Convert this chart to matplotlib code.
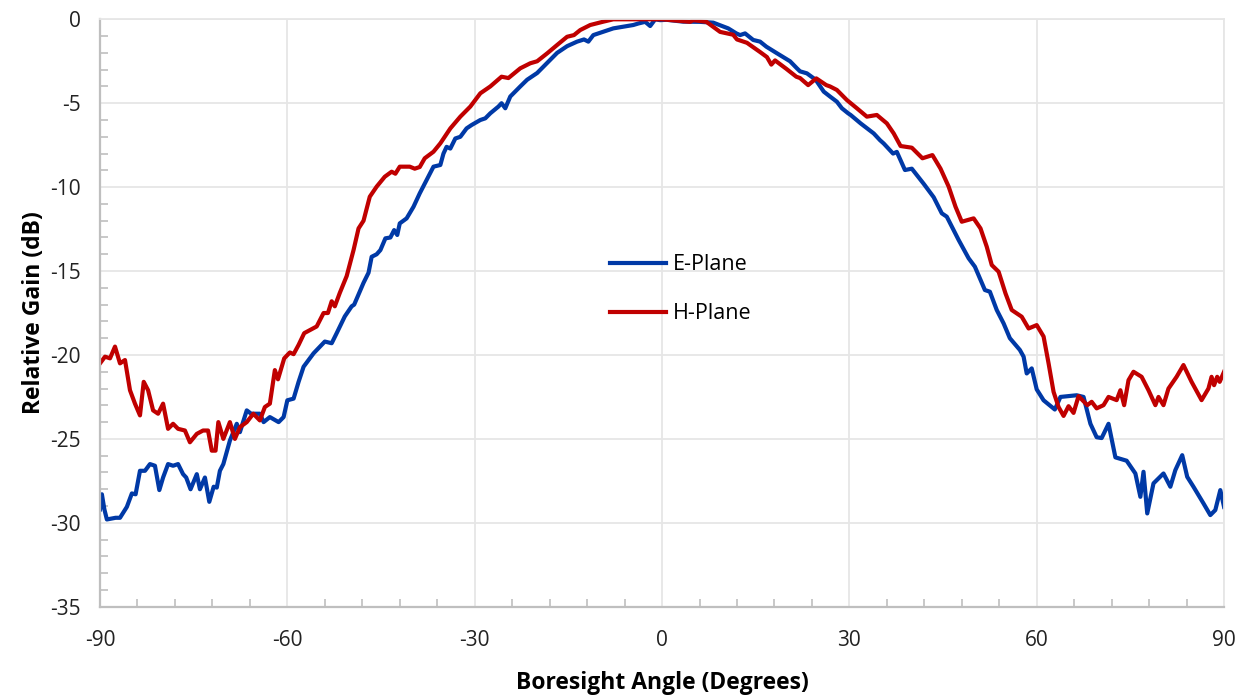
import matplotlib
matplotlib.use("Agg")
import matplotlib.pyplot as plt
from matplotlib.ticker import MultipleLocator

# ---------------- data ----------------
e_angle = [-90, -89.7, -89.3, -88.9, -87.5, -86.8, -85.7, -84.9, -84.3, -83.6, -82.8, -82.0, -81.2,
           -80.5, -79.9, -79.1, -78.3, -77.5, -76.7, -76.2, -75.5, -74.5, -74.0, -73.2, -72.5, -71.8,
           -71.3, -70.8, -70.25, -69.2, -68.1, -67.6, -66.5, -65.8, -64.4, -63.8, -62.8, -61.4, -60.6,
           -60.0, -59.0, -58.2, -57.4, -55.8, -54.0, -52.9, -52.1, -50.8, -49.7, -49.3, -47.8, -47.0,
           -46.5, -45.7, -45.1, -44.3, -43.5, -42.9, -42.4, -42.0, -40.9, -39.8, -38.8, -37.7, -36.6,
           -35.5, -35.0, -34.5, -33.9, -33.1, -32.3, -31.3, -30.5, -29.1, -28.3, -27.5, -26.2, -25.7,
           -25.1, -24.3, -22.7, -21.6, -20.0, -18.4, -16.8, -15.2, -13.6, -12.5, -11.8, -11.0, -9.4,
           -7.8, -6.2, -4.6, -3.8, -2.7, -1.9, -1.1, -0.3, 0.75, 3.4, 6.0, 8.2, 10.6, 11.9, 12.5, 13.3,
           14.6, 15.7, 16.7, 18.3, 20.5, 21.6, 22.1, 23.2, 24.6, 25.9, 26.9, 28.0, 28.8, 29.8, 30.2,
           31.8, 33.9, 34.9, 35.5, 37.0, 37.6, 38.9, 40.0, 41.9, 43.5, 44.8, 45.6, 47.5, 49.1, 50.1,
           51.7, 52.5, 53.6, 54.7, 55.7, 57.3, 57.9, 58.4, 59.2, 60.0, 61.1, 62.9, 63.8, 66.4, 67.5,
           68.6, 69.6, 70.4, 71.5, 72.6, 74.4, 75.8, 76.6, 77.1, 77.7, 78.7, 80.3, 81.4, 82.2, 83.3,
           84.1, 85.1, 86.7, 87.8, 88.6, 89.4, 90]
e_gain = [-29.2, -28.3, -29.2, -29.8, -29.7, -29.7, -29.05, -28.25, -28.3, -26.9, -26.9, -26.5, -26.6,
          -28.05, -27.3, -26.5, -26.6, -26.5, -27.1, -27.3, -28.0, -27.1, -28.0, -27.3, -28.75, -27.85,
          -27.9, -26.9, -26.5, -25.1, -24.1, -24.6, -23.3, -23.5, -23.5, -24.0, -23.7, -24.0, -23.7,
          -22.7, -22.6, -21.6, -20.7, -19.9, -19.2, -19.3, -18.7, -17.7, -17.1, -17.0, -15.7, -15.1,
          -14.15, -14.0, -13.75, -13.05, -13.0, -12.56, -12.85, -12.16, -11.86, -11.17, -10.37, -9.58, -8.78,
          -8.68, -8.0, -7.6, -7.7, -7.1, -7.0, -6.5, -6.3, -6.0, -5.9, -5.6, -5.2, -5.0,
          -5.3, -4.6, -4.0, -3.6, -3.2, -2.6, -2.0, -1.6, -1.33, -1.2, -1.33, -0.94, -0.74,
          -0.54, -0.44, -0.34, -0.25, -0.15, -0.4, 0.0, -0.05, -0.03, -0.14, -0.15, -0.2, -0.54, -0.84, -0.94, -0.84,
          -1.23, -1.33, -1.63, -2.0, -2.5, -2.92, -3.1, -3.22, -3.6, -4.31, -4.6, -4.91, -5.3, -5.6, -5.7,
          -6.2, -6.8, -7.2, -7.4, -8.0, -7.9, -8.98, -8.9, -9.8, -10.6, -11.56, -11.76, -13.15, -14.24, -14.74,
          -16.13, -16.23, -17.32, -18.12, -19.0, -19.7, -20.1, -21.1, -20.8, -22.05, -22.7, -23.25, -22.5, -22.4, -22.5,
          -24.1, -24.9, -24.95, -24.1, -26.1, -26.3, -27.06, -28.45, -26.96, -29.44, -27.65, -27.06, -27.85, -26.86, -25.97,
          -27.26, -27.85, -28.84, -29.54, -29.24, -28.05, -29.05]

h_angle = [-90, -89.2, -88.4, -87.6, -86.8, -86.0, -85.2, -84.4, -83.6, -83.0, -82.3, -81.5, -80.7,
           -79.9, -79.1, -78.3, -77.5, -76.4, -75.6, -74.5, -73.5, -72.7, -72.1, -71.5, -71.05, -70.25,
           -69.2, -68.4, -67.6, -66.5, -65.45, -64.4, -63.6, -62.8, -62.0, -61.5, -60.5, -59.6, -59.0,
           -58.2, -57.3, -55.3, -54.2, -53.5, -52.9, -52.4, -51.6, -50.5, -49.4, -48.6, -47.8, -46.8,
           -45.7, -44.4, -43.3, -42.7, -42.0, -40.4, -39.6, -38.8, -38.0, -36.6, -35.5, -33.9, -32.3,
           -30.7, -29.1, -27.5, -25.7, -24.6, -22.7, -21.1, -20.0, -18.4, -16.8, -15.2, -14.1, -13.1,
           -11.5, -9.4, -7.8, -4.0, 0.0, 2.9, 4.5, 5.0, 7.1, 9.3, 11.4, 12.0, 13.6, 14.1, 15.7, 16.8,
           17.5, 18.1, 19.9, 21.5, 22.1, 23.4, 24.7, 26.3, 26.9, 28.0, 29.6, 31.2, 32.8, 34.4, 36.0,
           37.1, 38.2, 40.0, 41.7, 43.3, 44.6, 45.9, 47.0, 48.0, 49.9, 51.0, 52.0, 52.8, 53.9, 55.0,
           56.0, 57.6, 58.7, 60.0, 61.1, 61.9, 62.7, 63.5, 64.3, 65.1, 65.9, 66.7, 68.1, 68.8, 69.6,
           70.7, 71.5, 72.8, 73.4, 74.0, 74.7, 75.5, 76.8, 77.9, 79.0, 79.5, 80.3, 81.1, 82.4, 83.5,
           84.8, 86.4, 87.5, 88.0, 88.4, 88.9, 89.3, 90]
h_gain = [-20.5, -20.1, -20.2, -19.5, -20.5, -20.3, -22.1, -22.9, -23.6, -21.6, -22.1, -23.3, -23.5,
          -22.9, -24.4, -24.1, -24.4, -24.5, -25.2, -24.7, -24.5, -24.5, -25.7, -25.7, -24.0, -25.0,
          -24.0, -25.0, -24.3, -24.0, -23.5, -23.9, -23.1, -22.9, -20.9, -21.45, -20.2, -19.85, -19.95,
          -19.4, -18.7, -18.3, -17.5, -17.5, -16.8, -17.1, -16.3, -15.3, -13.75, -12.46, -12.0, -10.57,
          -9.97, -9.38, -9.08, -9.2, -8.78, -8.78, -8.9, -8.8, -8.28, -7.89, -7.39, -6.5, -5.8,
          -5.2, -4.41, -4.0, -3.42, -3.5, -2.92, -2.62, -2.5, -2.03, -1.53, -1.04, -0.94, -0.64,
          -0.34, -0.14, 0.0, 0.0, 0.0, -0.1, -0.15, -0.05, -0.15, -0.75, -0.92, -1.2, -1.4, -1.53, -1.95, -2.25,
          -2.7, -2.45, -2.95, -3.42, -3.5, -3.92, -3.52, -3.92, -4.0, -4.21, -4.81, -5.3, -5.8, -5.7, -6.2,
          -6.8, -7.55, -7.65, -8.28, -8.09, -8.9, -9.97, -11.17, -12.06, -11.86, -12.46, -13.55, -14.64, -15.04, -16.33,
          -17.32, -17.72, -18.42, -18.22, -18.9, -20.5, -22.2, -23.1, -23.63, -23.05, -23.45, -22.45, -22.99, -22.79, -23.18,
          -22.99, -22.5, -22.69, -22.1, -22.99, -21.5, -21.0, -21.3, -22.1, -22.99, -22.5, -22.99, -22.0, -21.3, -20.6,
          -21.6, -22.69, -22.0, -21.3, -21.8, -21.3, -21.6, -21.0]

x_ticks = [-90, -60, -30, 0, 30, 60, 90]
y_ticks = [0, -5, -10, -15, -20, -25, -30, -35]
series_labels = ["E-Plane", "H-Plane"]

# ---------------- figure ----------------
plt.rcParams['font.family'] = ['Open Sans', 'DejaVu Sans']
plt.rcParams['axes.unicode_minus'] = False

fig = plt.figure(figsize=(12.47, 6.97), dpi=100)
ax = fig.add_axes([0.0802, 0.1295, 0.9014, 0.8428])

grid_c = '#E6E6E6'
axis_c = '#BFBFBF'
ax.plot(e_angle, e_gain, color='#0039A6', lw=3.0, label=series_labels[0], solid_joinstyle='round')
ax.plot(h_angle, h_gain, color='#C00000', lw=3.0, label=series_labels[1], solid_joinstyle='round')

ax.set_xlim(-90, 90)
ax.set_ylim(-35, 0)
ax.set_xticks(x_ticks)
ax.set_yticks(y_ticks)
ax.xaxis.set_minor_locator(MultipleLocator(6))
ax.yaxis.set_minor_locator(MultipleLocator(1))
ax.grid(True, which='major', color=grid_c, lw=1.3)
ax.set_axisbelow(True)

ax.tick_params(which='major', length=0, labelsize=15, labelcolor='#222222')
ax.tick_params(axis='x', which='major', pad=17)
ax.tick_params(axis='y', which='major', pad=14)
ax.tick_params(which='minor', direction='in', length=6, width=1.2, color=axis_c)

for s in ['left', 'bottom']:
    ax.spines[s].set_color(axis_c)
    ax.spines[s].set_linewidth(1.6)
for s in ['top', 'right']:
    ax.spines[s].set_color(grid_c)
    ax.spines[s].set_linewidth(1.3)

ax.set_xlabel('Boresight Angle (Degrees)', fontsize=16.5, fontweight='bold', labelpad=14)
ax.set_ylabel('Relative Gain (dB)', fontsize=16.5, fontweight='bold', labelpad=3)

ax.legend(loc='center left', bbox_to_anchor=(0.4537, 0.5405), frameon=False,
          fontsize=15.5, handlelength=2.6, handletextpad=0.3, labelspacing=1.3,
          borderaxespad=0, borderpad=0)

fig.savefig('out.png', dpi=100, facecolor='white')
